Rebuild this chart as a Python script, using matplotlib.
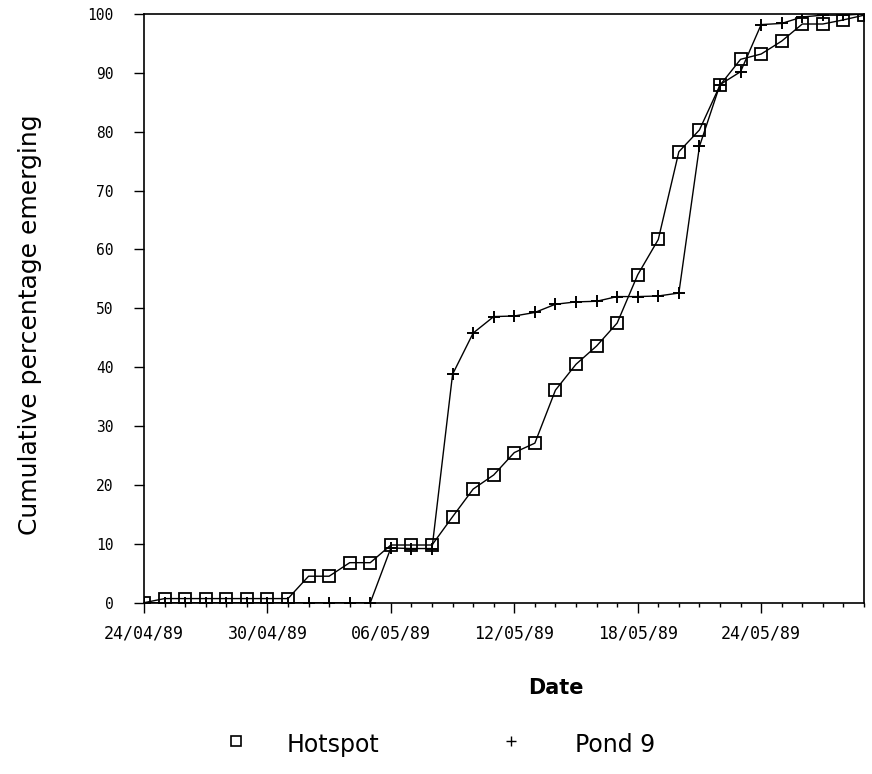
import matplotlib
matplotlib.use("Agg")
import matplotlib.pyplot as plt
import matplotlib.dates as mdates
from matplotlib.lines import Line2D
import pandas as pd

# Daily sampling dates, 24 April to 29 May 1989
dates = pd.date_range("1989-04-24", "1989-05-29", freq="D")

hotspot = [0.0, 0.7, 0.7, 0.7, 0.7, 0.7, 0.7, 0.7, 4.5, 4.5, 6.8, 6.8,
           9.8, 9.8, 9.8, 14.6, 19.3, 21.7, 25.5, 27.1, 36.1, 40.5, 43.6, 47.5,
           55.7, 61.7, 76.6, 80.3, 87.9, 92.3, 93.2, 95.4, 98.3, 98.3, 99.0, 99.8]

pond9 = [0.0, 0.0, 0.0, 0.0, 0.0, 0.0, 0.0, 0.0, 0.0, 0.0, 0.0, 0.0,
         9.3, 9.2, 9.2, 38.8, 45.8, 48.6, 48.7, 49.3, 50.7, 51.1, 51.2, 52.0,
         52.0, 52.1, 52.6, 77.5, 88.0, 90.2, 98.2, 98.4, 99.5, 99.8, 99.8, 100.0]

series_labels = ["Hotspot", "Pond 9"]
y_ticks = list(range(0, 101, 10))

W, H = 872, 774
fig = plt.figure(figsize=(W / 100, H / 100), dpi=100)
ax = fig.add_axes([144 / W, 1 - 602.7 / H, 720 / W, 588.7 / H])

ax.plot(dates, hotspot, color="black", lw=1.0, marker="s", markersize=8.5,
        markerfacecolor="none", markeredgecolor="black", markeredgewidth=1.3)
ax.plot(dates, pond9, color="black", lw=1.0, marker="+", markersize=8,
        markeredgewidth=1.4)

ax.set_xlim(dates[0], dates[-1])
ax.set_ylim(0, 100)
ax.set_yticks(y_ticks)

ax.xaxis.set_major_locator(mdates.DayLocator(bymonthday=[24, 30, 6, 12, 18]))
ax.xaxis.set_major_formatter(mdates.DateFormatter("%d/%m/%y"))
ax.xaxis.set_minor_locator(mdates.DayLocator())

ax.tick_params(axis="x", which="major", direction="out", length=7, width=1,
               pad=9, labelsize=12, labelfontfamily="DejaVu Sans Mono")
ax.tick_params(axis="x", which="minor", direction="out", length=3, width=1)
ax.tick_params(axis="y", direction="out", length=7, width=1, pad=15,
               labelsize=10.5, labelfontfamily="DejaVu Sans Mono")
ax.tick_params(top=False, right=False)

for side in ["left", "bottom", "top", "right"]:
    ax.spines[side].set_linewidth(1.2)

ax.set_ylabel("Cumulative percentage emerging", fontsize=18)
ax.yaxis.set_label_coords((42 - 144) / 720, (602.7 - 325) / 588.7)

fig.text(556 / W, 1 - 688 / H, "Date", fontsize=15, fontweight="bold",
         ha="center", va="center")

# Legend row below the axis title
legend_y = 1 - 745 / H
legend_items = [
    (236, 287, dict(marker="s", markersize=7, markerfacecolor="none",
                    markeredgewidth=1.2)),
    (511, 575, dict(marker="+", markersize=7, markeredgewidth=1.0)),
]
for (mx, tx, style), label in zip(legend_items, series_labels):
    fig.add_artist(Line2D([mx / W], [1 - 741 / H], color="black", lw=0,
                          transform=fig.transFigure, **style))
    fig.text(tx / W, legend_y, label, fontsize=17, ha="left", va="center")

fig.savefig("out.png", dpi=100)
